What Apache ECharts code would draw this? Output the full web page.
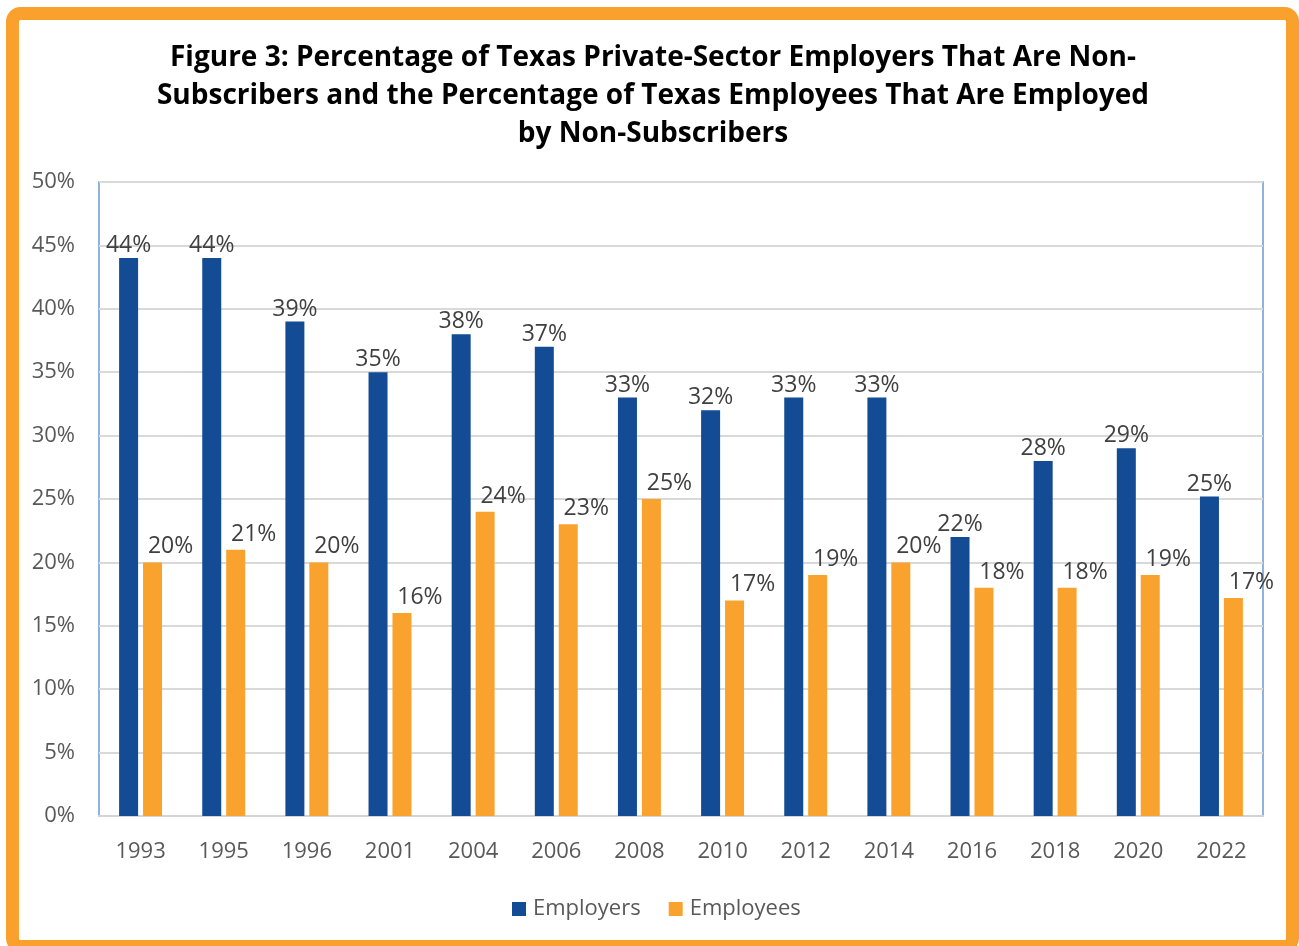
<!DOCTYPE html>
<html>
<head>
<meta charset="utf-8">
<script src="https://cdn.jsdelivr.net/npm/echarts@6/dist/echarts.min.js"></script>
<style>
html,body{margin:0;padding:0;background:#fff;}
#chart{width:1299px;height:946px;}
</style>
</head>
<body>
<div id="chart"></div>
<script>
const titleText = "Figure 3: Percentage of Texas Private-Sector Employers That Are Non-\nSubscribers and the Percentage of Texas Employees That Are Employed\nby Non-Subscribers";
const years = ["1993","1995","1996","2001","2004","2006","2008","2010","2012","2014","2016","2018","2020","2022"];
const employers = [44,44,39,35,38,37,33,32,33,33,22,28,29,25.2];
const employees = [20,21,20,16,24,23,25,17,19,20,18,18,19,17.2];
const yTicks = [0,5,10,15,20,25,30,35,40,45,50];

const FONT = '"Open Sans", "Noto Sans", sans-serif';
const chart = echarts.init(document.getElementById('chart'), null, {renderer:'canvas'});
chart.setOption({
  animation:false,
  backgroundColor:'#fff',
  title:{
    text:titleText, top:34, textAlign:'center',
    left:648,
    textStyle:{fontFamily:FONT, fontWeight:'bold', fontSize:28, color:'#000', lineHeight:38}
  },
  graphic:[{
    type:'rect', z:100, silent:true,
    shape:{x:12.5, y:13.5, width:1280, height:933, r:8},
    style:{fill:'none', stroke:'#F9A12C', lineWidth:13}
  }],
  legend:{
    data:['Employers','Employees'], top:893, left:507,
    itemWidth:14, itemHeight:14, itemGap:28, icon:'rect',
    textStyle:{fontFamily:FONT, fontSize:22, color:'#595959', padding:[0,0,0,2]}
  },
  grid:{left:99, top:182, right:36, bottom:130, show:true, borderColor:'#6A9AD6', borderWidth:1.5, containLabel:false},
  xAxis:{
    type:'category', data:years,
    axisLine:{show:true, lineStyle:{color:'#d4d4d4', width:2}},
    axisTick:{show:false},
    axisLabel:{fontFamily:FONT, fontSize:22, color:'#595959', margin:25}
  },
  yAxis:{
    type:'value', min:0, max:50, interval:5,
    axisLine:{show:false}, axisTick:{show:false},
    splitLine:{lineStyle:{color:'#d9d9d9', width:2}},
    axisLabel:{fontFamily:FONT, fontSize:22, color:'#595959', margin:24, formatter:v=>v+'%'}
  },
  series:[
    {name:'Employers', type:'bar', data:employers, barWidth:19, barGap:'26%',
     itemStyle:{color:'#134C94'},
     label:{show:true, position:'top', distance:1, fontFamily:FONT, fontSize:23, color:'#404040',
            formatter:p=>Math.round(p.value)+'%'}},
    {name:'Employees', type:'bar', data:employees, barWidth:19,
     itemStyle:{color:'#FAA22E'},
     label:{show:true, position:'top', distance:4, offset:[18,0], fontFamily:FONT, fontSize:23, color:'#404040',
            formatter:p=>Math.round(p.value)+'%'}}
  ]
});
</script>
</body>
</html>
